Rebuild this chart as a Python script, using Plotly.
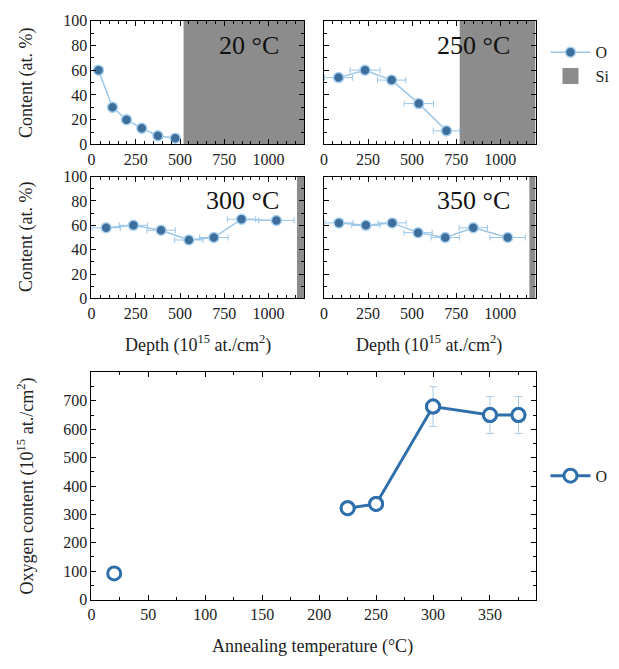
import plotly.graph_objects as go

W, H = 619, 669
FONT = "Liberation Serif"

# ---- depth profiles (O content, at.%) ----
temps = ["20 °C", "250 °C", "300 °C", "350 °C"]
depth_20 = [40, 119, 198, 284, 375, 473]
o_20 = [60, 30, 20, 13, 7, 5]
dx_20 = [20, 20, 20, 20, 20, 20]

depth_250 = [83, 233, 384, 538, 695]
o_250 = [54, 60, 52, 33, 11]
dx_250 = [80, 85, 80, 83, 75]

depth_300 = [83, 237, 393, 550, 691, 847, 1044]
o_300 = [58, 60, 56, 48, 50, 65, 64]
dx_300 = [80, 80, 80, 80, 80, 80, 100]

depth_350 = [85, 238, 387, 534, 688, 847, 1042]
o_350 = [62, 60, 62, 54, 50, 58, 50]
dx_350 = [80, 80, 80, 80, 80, 80, 100]

si_start = [520, 770, 1160, 1165]
depth_max = 1200

# ---- total oxygen content vs annealing temperature ----
anneal_T = [20, 225, 250, 300, 350, 375]
o_total = [92, 322, 337, 680, 650, 650]
o_total_err = [8, 10, 10, 70, 65, 65]

profiles = [
    (depth_20, o_20, dx_20),
    (depth_250, o_250, dx_250),
    (depth_300, o_300, dx_300),
    (depth_350, o_350, dx_350),
]

# panel pixel boxes (left, right, top, bottom)
boxes = [(88, 302, 13, 140), (322, 535, 13, 140), (88, 302, 173, 298), (322, 535, 173, 298)]
bottom_box = (88, 535, 374, 607)


def xd(l, r):
    return [l / W, r / W]


def yd(t, b):
    return [1 - b / H, 1 - t / H]


fig = go.Figure()
MARK = "#3d6e9c"
LIGHT = "#9cc6e8"

axis_common = dict(showline=True, linecolor="black", linewidth=1, mirror="ticks",
                   ticks="inside", ticklen=5, tickcolor="black", showgrid=False, zeroline=False,
                   tickfont=dict(family=FONT, size=16, color="#222"))

layout = {}
for i, ((xs, ys, dxs), (l, r, t, b)) in enumerate(zip(profiles, boxes)):
    n = i + 1
    xa = "x" if n == 1 else f"x{n}"
    ya = "y" if n == 1 else f"y{n}"
    fig.add_trace(go.Scatter(
        x=xs, y=ys, xaxis=xa, yaxis=ya, mode="lines+markers",
        name="O", legend="legend", showlegend=(n == 2),
        line=dict(color=LIGHT, width=1.5),
        marker=dict(color=MARK, size=10, line=dict(color="#a9d0ee", width=1.5)),
        error_x=dict(type="data", array=dxs, color=LIGHT, thickness=1, width=3),
    ))
    fig.add_shape(type="rect", xref=xa, yref=f"{ya} domain", x0=si_start[i], x1=depth_max,
                  y0=0, y1=1, fillcolor="#8c8c8c", line=dict(width=0), layer="below")
    layout["xaxis" if n == 1 else f"xaxis{n}"] = dict(
        axis_common, domain=xd(l, r), anchor=ya, range=[0, depth_max],
        tickvals=[0, 250, 500, 750, 1000],
        minor=dict(ticks="inside", dtick=50, tick0=0, ticklen=3, tickcolor="black"))
    layout["yaxis" if n == 1 else f"yaxis{n}"] = dict(
        axis_common, domain=yd(t, b), anchor=xa, range=[0, 100], dtick=20,
        showticklabels=(n in (1, 3)),
        minor=dict(ticks="inside", dtick=10, tick0=0, ticklen=3, tickcolor="black"))
    fig.add_annotation(xref=f"{xa} domain", yref=f"{ya} domain", x=0.89, y=0.8,
                       xanchor="right", yanchor="middle", text=temps[i], showarrow=False,
                       font=dict(family=FONT, size=26, color="#111"))

# Si legend entry
fig.add_trace(go.Scatter(x=[None], y=[None], xaxis="x2", yaxis="y2", mode="markers",
                         name="Si", legend="legend",
                         marker=dict(symbol="square", size=22, color="#8c8c8c")))

# bottom panel
l, r, t, b = bottom_box
fig.add_trace(go.Scatter(
    x=anneal_T, y=o_total, xaxis="x5", yaxis="y5", mode="markers", name="O",
    legend="legend2", showlegend=False,
    marker=dict(color="white", size=13, symbol="circle", line=dict(color="#2f6fab", width=3)),
    error_y=dict(type="data", array=o_total_err, color="#a9cbe6", thickness=1, width=4),
))
fig.add_trace(go.Scatter(
    x=anneal_T[1:], y=o_total[1:], xaxis="x5", yaxis="y5", mode="lines+markers", name="O",
    legend="legend2",
    line=dict(color="#2f6fab", width=3),
    marker=dict(color="white", size=13, symbol="circle", line=dict(color="#2f6fab", width=3)),
))
layout["xaxis5"] = dict(axis_common, domain=xd(l, r), anchor="y5", range=[0, 390], dtick=50,
                        minor=dict(ticks="inside", dtick=25, tick0=0, ticklen=3, tickcolor="black"))
layout["yaxis5"] = dict(axis_common, domain=yd(t, b), anchor="x5", range=[0, 800],
                        tickvals=[0, 100, 200, 300, 400, 500, 600, 700],
                        minor=dict(ticks="inside", dtick=50, tick0=0, ticklen=3, tickcolor="black"))

# axis titles as annotations
title_font = dict(family=FONT, size=18, color="#222")
for yc in (77, 235):
    fig.add_annotation(xref="paper", yref="paper", x=22 / W, y=1 - yc / H, text="Content (at. %)",
                       xanchor="center", yanchor="middle",
                       textangle=-90, showarrow=False, font=title_font)
for xc in (195, 428):
    fig.add_annotation(xref="paper", yref="paper", x=xc / W, y=1 - 345 / H,
                       xanchor="center", yanchor="middle",
                       text="Depth (10<sup>15</sup> at./cm<sup>2</sup>)", showarrow=False, font=title_font)
fig.add_annotation(xref="paper", yref="paper", x=22 / W, y=1 - 490 / H,
                   xanchor="center", yanchor="middle",
                   text="Oxygen content (10<sup>15</sup> at./cm<sup>2</sup>)", textangle=-90,
                   showarrow=False, font=title_font)
fig.add_annotation(xref="paper", yref="paper", x=311 / W, y=1 - 655 / H,
                   xanchor="center", yanchor="middle",
                   text="Annealing temperature (°C)", showarrow=False, font=title_font)

fig.update_layout(
    width=W, height=H, margin=dict(l=0, r=0, t=0, b=0),
    paper_bgcolor="white", plot_bgcolor="white",
    font=dict(family=FONT, size=16, color="#222"),
    legend=dict(x=545 / W, y=1 - 28 / H, xanchor="left", yanchor="top",
                bgcolor="rgba(0,0,0,0)", font=dict(family=FONT, size=16), tracegroupgap=0,
                itemwidth=40),
    legend2=dict(x=545 / W, y=1 - 480 / H, xanchor="left", yanchor="middle",
                 bgcolor="rgba(0,0,0,0)", font=dict(family=FONT, size=16), itemwidth=40),
    **layout,
)

fig.write_html("out.html")
